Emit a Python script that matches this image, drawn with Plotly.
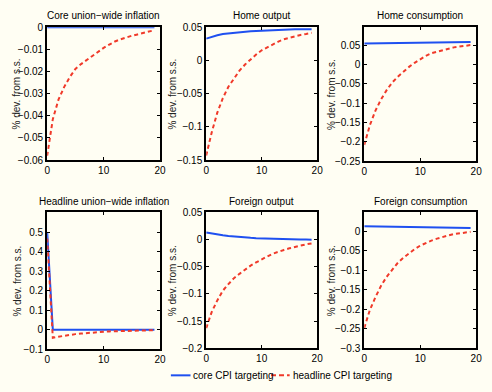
import plotly.graph_objects as go

periods = list(range(20))

titles = ["Core union\u2212wide inflation", "Home output", "Home consumption",
          "Headline union\u2212wide inflation", "Foreign output", "Foreign consumption"]
legend_labels = ["core CPI targeting", "headline CPI targeting"]

core_inflation_core = [0.0] * 20
core_inflation_headline = [-0.058, -0.0415, -0.0327, -0.027, -0.0225, -0.0188, -0.0166, -0.0147,
                           -0.013, -0.011, -0.0093, -0.0078, -0.0064, -0.0054, -0.0045, -0.0038,
                           -0.0032, -0.0026, -0.002, -0.0013]

home_output_core = [0.033, 0.036, 0.038, 0.040, 0.041, 0.042, 0.043, 0.0435, 0.044, 0.0445,
                    0.045, 0.0455, 0.046, 0.046, 0.0465, 0.0465, 0.047, 0.047, 0.047, 0.047]
home_output_headline = [-0.143, -0.108, -0.0785, -0.0566, -0.0395, -0.0274, -0.0152, -0.006,
                        0.0018, 0.009, 0.0154, 0.020, 0.0247, 0.0285, 0.032, 0.0345, 0.0368,
                        0.0385, 0.040, 0.0417]

home_cons_core = [0.055, 0.0553, 0.0556, 0.0558, 0.056, 0.0562, 0.0564, 0.0566, 0.0568, 0.057,
                  0.0572, 0.0574, 0.0576, 0.0578, 0.058, 0.0582, 0.0584, 0.0586, 0.0588, 0.059]
home_cons_headline = [-0.208, -0.157, -0.119, -0.090, -0.066, -0.046, -0.031, -0.017, -0.0056,
                      0.005, 0.015, 0.023, 0.030, 0.034, 0.038, 0.042, 0.045, 0.047, 0.049, 0.051]

headline_infl_core = [0.5] + [0.0] * 19
headline_infl_headline = [0.467, -0.042, -0.036, -0.031, -0.027, -0.023, -0.020, -0.017, -0.015,
                          -0.013, -0.011, -0.009, -0.008, -0.007, -0.006, -0.005, -0.004, -0.004,
                          -0.003, -0.003]

foreign_output_core = [0.013, 0.011, 0.0095, 0.008, 0.0068, 0.0057, 0.0048, 0.004, 0.0033, 0.0027,
                       0.0022, 0.0017, 0.0013, 0.001, 0.0007, 0.0005, 0.0003, 0.0001, 0.0, -0.0001]
foreign_output_headline = [-0.163, -0.133, -0.112, -0.094, -0.082, -0.071, -0.063, -0.055, -0.048,
                           -0.042, -0.036, -0.031, -0.026, -0.022, -0.019, -0.016, -0.013, -0.011,
                           -0.0087, -0.007]

foreign_cons_core = [0.0125, 0.0122, 0.012, 0.0117, 0.0115, 0.0112, 0.011, 0.0107, 0.0105, 0.0102,
                     0.010, 0.0098, 0.0096, 0.0094, 0.0092, 0.009, 0.0088, 0.0086, 0.0083, 0.008]
foreign_cons_headline = [-0.248, -0.202, -0.169, -0.140, -0.117, -0.098, -0.081, -0.068, -0.056,
                         -0.046, -0.037, -0.030, -0.024, -0.019, -0.014, -0.011, -0.0075, -0.005,
                         -0.0025, -0.0017]

core_series = [core_inflation_core, home_output_core, home_cons_core,
               headline_infl_core, foreign_output_core, foreign_cons_core]
headline_series = [core_inflation_headline, home_output_headline, home_cons_headline,
                   headline_infl_headline, foreign_output_headline, foreign_cons_headline]

y_ranges = [[-0.06, 0.0], [-0.15, 0.05], [-0.25, 0.097], [-0.1, 0.6], [-0.2, 0.05], [-0.3, 0.048]]
y_ticks = [
    [-0.06, -0.05, -0.04, -0.03, -0.02, -0.01, 0],
    [-0.15, -0.1, -0.05, 0, 0.05],
    [-0.25, -0.2, -0.15, -0.1, -0.05, 0, 0.05],
    [-0.1, 0, 0.1, 0.2, 0.3, 0.4, 0.5],
    [-0.2, -0.15, -0.1, -0.05, 0, 0.05],
    [-0.3, -0.25, -0.2, -0.15, -0.1, -0.05, 0],
]
x_ticks = [0, 10, 20]

W, H = 492, 392
# pixel boxes (left, right, top, bottom)
boxes = [(45, 160, 22, 159), (207, 320, 22, 159), (368, 482, 22, 160),
         (45, 160, 213, 354), (207, 320, 213, 353), (368, 482, 213, 353)]
ytitle_x = [14, 173, 334, 15, 173, 334]

BG = "#FFFEF3"
BLUE = "#1f50f0"
RED = "#f03a2a"
FONT = "Liberation Sans, Arial, sans-serif"

fig = go.Figure()
layout = dict(width=W, height=H, margin=dict(l=0, r=0, t=0, b=0),
              paper_bgcolor=BG, plot_bgcolor=BG, showlegend=False, hovermode=False,
              font=dict(family=FONT, size=10, color="#000000"))
annotations = []
shapes = []
for i in range(6):
    n = "" if i == 0 else str(i + 1)
    l, r, t, b = boxes[i]
    xd = [l / W, r / W]
    yd = [1 - b / H, 1 - t / H]
    axcommon = dict(showline=True, linecolor="black", linewidth=2, mirror="ticks",
                    ticks="inside", ticklen=3, tickcolor="black", tickwidth=1,
                    showgrid=False, zeroline=False, tickfont=dict(size=10, color="#000000"))
    layout["xaxis" + n] = dict(domain=xd, range=[0, 20], tickvals=x_ticks,
                               anchor="y" + n, **axcommon)
    layout["yaxis" + n] = dict(domain=yd, range=y_ranges[i], tickvals=y_ticks[i],
                               anchor="x" + n, **axcommon)
    fig.add_trace(go.Scatter(x=periods, y=core_series[i], mode="lines",
                             line=dict(color=BLUE, width=2), name=legend_labels[0],
                             xaxis="x" + n, yaxis="y" + n))
    fig.add_trace(go.Scatter(x=periods, y=headline_series[i], mode="lines",
                             line=dict(color=RED, width=2, dash="4px,3px"), name=legend_labels[1],
                             xaxis="x" + n, yaxis="y" + n))
    annotations.append(dict(text=titles[i], x=(l + r) / 2 / W, y=1 - (t - 4) / H,
                            xref="paper", yref="paper", xanchor="center", yanchor="bottom",
                            showarrow=False, font=dict(size=10, color="#000000")))
    annotations.append(dict(text="% dev. from s.s.", x=ytitle_x[i] / W, y=1 - (t + b) / 2 / H,
                            xref="paper", yref="paper", xanchor="center", yanchor="middle",
                            textangle=-90, showarrow=False,
                            font=dict(size=10, color="#222222")))

# manual legend (line samples + labels)
leg_y = 1 - 381 / H
leg_items = [(171, 191, BLUE, "solid"), (273, 292, RED, "5px,3px")]
for (x0, x1, col, dash), lab in zip(leg_items, legend_labels):
    shapes.append(dict(type="line", xref="paper", yref="paper", x0=x0 / W, x1=x1 / W,
                       y0=leg_y, y1=leg_y, line=dict(color=col, width=2, dash=dash)))
    annotations.append(dict(text=lab, x=(x1 + 1) / W, y=leg_y, xref="paper", yref="paper",
                            xanchor="left", yanchor="middle", showarrow=False,
                            font=dict(size=10, color="#000000")))

layout["annotations"] = annotations
layout["shapes"] = shapes
fig.update_layout(**layout)
fig.write_html("out.html", config={"displayModeBar": False, "staticPlot": True},
               post_script="document.body.style.margin='0px';document.body.style.overflow='hidden';")
